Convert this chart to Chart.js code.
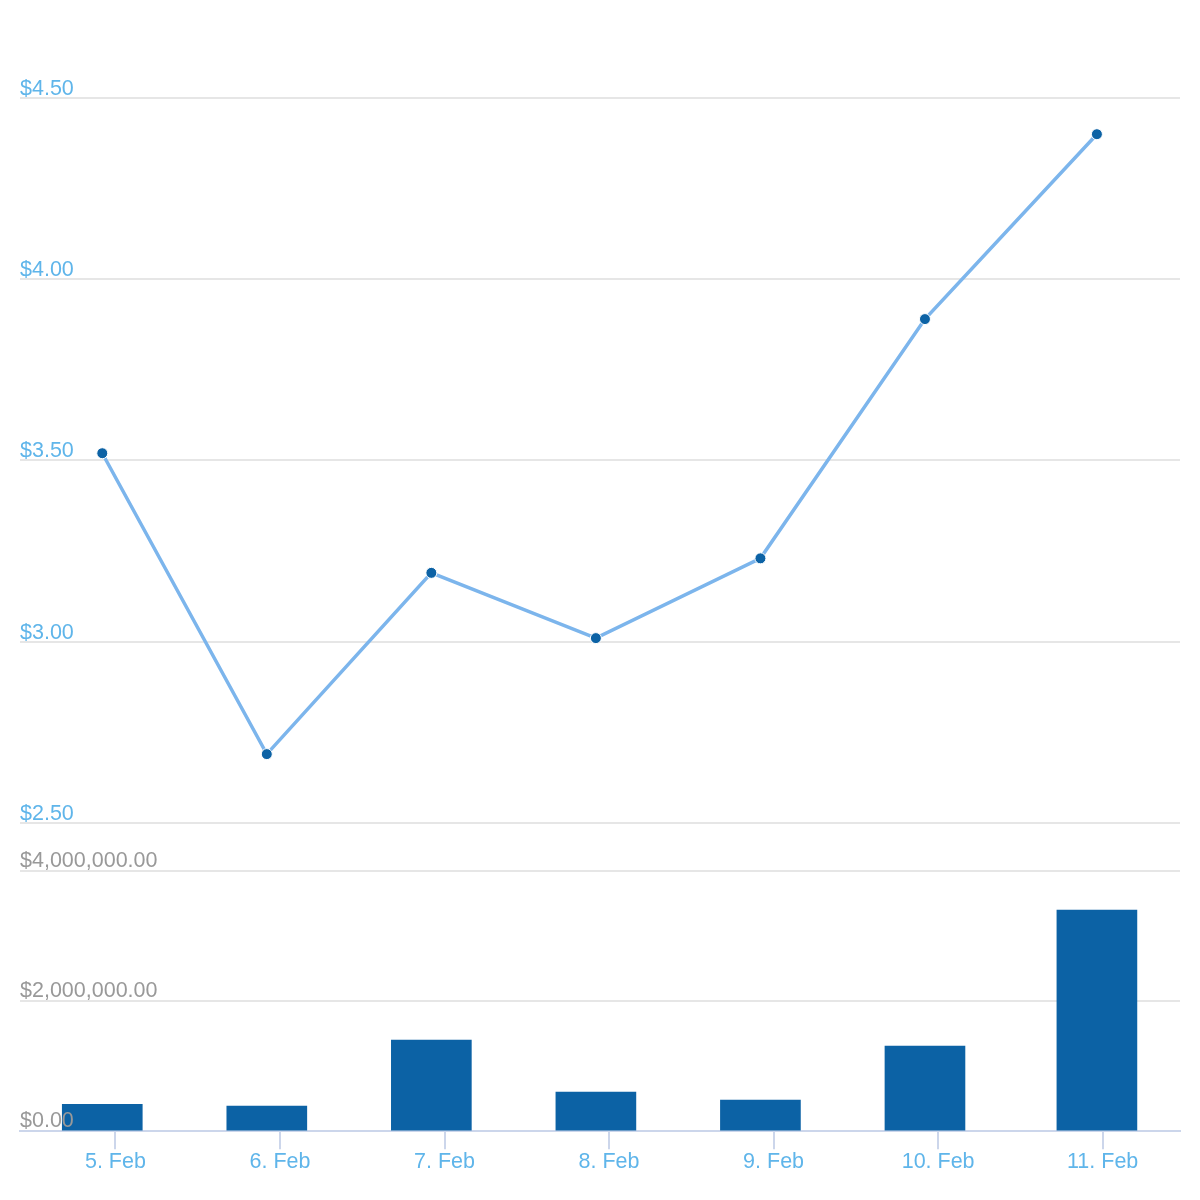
<!DOCTYPE html>
<html>
<head>
<meta charset="utf-8">
<script src="https://cdn.jsdelivr.net/npm/chart.js@4.4.0/dist/chart.umd.min.js"></script>
<style>
    body { margin: 0; background: #ffffff; }
    #wrap { position: relative; width: 1200px; height: 1200px; }
    #priceChart { position: absolute; left: 0; top: 0; }
    #volumeChart { position: absolute; left: 0; top: 830px; }
</style>
</head>
<body>
<div id="wrap">
    <canvas id="priceChart" width="1200" height="850"></canvas>
    <canvas id="volumeChart" width="1200" height="370"></canvas>
</div>
<script>
// Dias (fevereiro) e rótulos do eixo x
const tickDays = [5, 6, 7, 8, 9, 10, 11];
const tickLabels = ['5. Feb', '6. Feb', '7. Feb', '8. Feb', '9. Feb', '10. Feb', '11. Feb'];

// Posição de cada ponto no tempo (dia de fevereiro, fracionado)
const pointDays = [4.92, 5.92, 6.92, 7.92, 8.92, 9.92, 10.965];

// Preço e volume
const prices = [3.52, 2.69, 3.19, 3.01, 3.23, 3.89, 4.40];
const volumes = [415000, 385000, 1400000, 600000, 477000, 1310000, 3400000];

// Marcas dos eixos y
const priceTicks = [2.5, 3, 3.5, 4, 4.5];
const volumeTicks = [0, 2000000, 4000000];

const xMin = 4.42;
const xMax = 11.47;

const labelFont = { family: '"Liberation Sans", Arial, sans-serif', size: 21.5 };
const lightBlue = '#5fb5ea';
const darkBlue = '#0c62a5';
const gridColor = '#e6e6e6';

function money(v) {
    return '$' + v.toLocaleString('en-US', { minimumFractionDigits: 2, maximumFractionDigits: 2 });
}

function initCharts() {
    // Painel de preço
    new Chart(document.getElementById('priceChart'), {
        type: 'line',
        data: {
            datasets: [{
                data: pointDays.map((d, i) => ({ x: d, y: prices[i] })),
                borderColor: '#7cb5ec',
                borderWidth: 3.5,
                tension: 0,
                pointRadius: 5.5,
                pointBackgroundColor: darkBlue,
                pointBorderColor: '#ffffff',
                pointBorderWidth: 1
            }]
        },
        options: {
            responsive: false,
            animation: false,
            layout: { padding: { left: 20, right: 20, top: 20, bottom: 27 } },
            plugins: { legend: { display: false }, tooltip: { enabled: false } },
            scales: {
                x: { type: 'linear', min: xMin, max: xMax, display: false },
                y: {
                    min: 2.5,
                    max: 4.715,
                    afterBuildTicks: s => { s.ticks = priceTicks.map(v => ({ value: v })); },
                    border: { display: false },
                    grid: { color: gridColor, lineWidth: 2, drawTicks: false },
                    ticks: {
                        mirror: true,
                        padding: 0,
                        labelOffset: -9,
                        color: lightBlue,
                        font: labelFont,
                        callback: v => money(v)
                    }
                }
            }
        }
    });

    // Painel de volume
    new Chart(document.getElementById('volumeChart'), {
        type: 'bar',
        data: {
            datasets: [{
                data: pointDays.map((d, i) => ({ x: d, y: volumes[i] })),
                backgroundColor: darkBlue,
                barThickness: 80
            }]
        },
        options: {
            responsive: false,
            animation: false,
            layout: { padding: { left: 20, right: 20, top: 15, bottom: 25 } },
            plugins: { legend: { display: false }, tooltip: { enabled: false } },
            scales: {
                x: {
                    type: 'linear',
                    min: xMin,
                    max: xMax,
                    offset: false,
                    afterBuildTicks: s => { s.ticks = tickDays.map(v => ({ value: v })); },
                    border: { color: '#ccd6eb', width: 2 },
                    grid: { offset: false, drawOnChartArea: false, drawTicks: true, tickLength: 18, color: '#ccd6eb', lineWidth: 2 },
                    ticks: {
                        padding: 0,
                        maxRotation: 0,
                        color: lightBlue,
                        font: labelFont,
                        callback: v => tickLabels[tickDays.indexOf(v)]
                    }
                },
                y: {
                    min: 0,
                    max: 4400000,
                    afterBuildTicks: s => { s.ticks = volumeTicks.map(v => ({ value: v })); },
                    border: { display: false },
                    grid: { color: gridColor, lineWidth: 2, drawTicks: false },
                    ticks: {
                        z: 1, // rótulos por cima das barras
                        mirror: true,
                        padding: 0,
                        labelOffset: -10,
                        color: '#999999',
                        font: labelFont,
                        callback: v => money(v)
                    }
                }
            }
        }
    });
}

document.addEventListener('DOMContentLoaded', initCharts);
</script>
</body>
</html>
